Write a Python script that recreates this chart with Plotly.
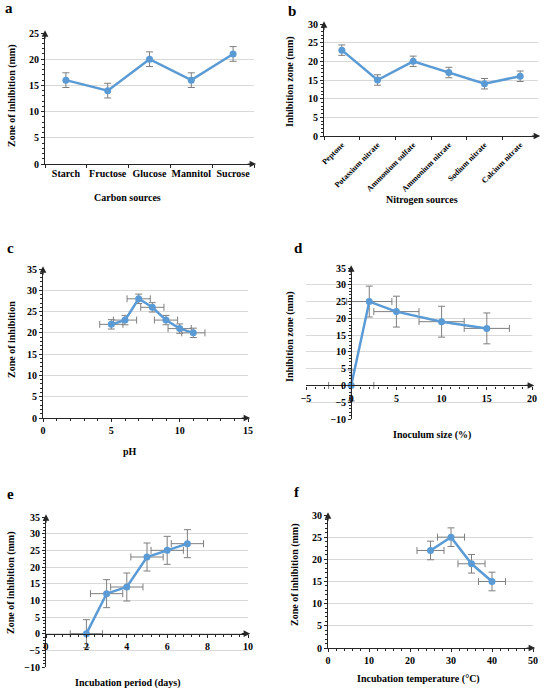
import plotly.graph_objects as go

# --- data ---
carbon_sources = ["Starch", "Fructose", "Glucose", "Mannitol", "Sucrose"]
carbon_zone = [16, 14, 20, 16, 21]
carbon_err = [1.4, 1.4, 1.4, 1.4, 1.4]

nitrogen_sources = ["Peptone", "Potassium nitrate", "Ammonium sulfate",
                    "Ammonium nitrate", "Sodium nitrate", "Calcium nitrate"]
nitrogen_zone = [23, 15, 20, 17, 14, 16]
nitrogen_err = [1.4, 1.4, 1.4, 1.4, 1.4, 1.4]

ph_values = [5, 6, 7, 8, 9, 10, 11]
ph_zone = [22, 23, 28, 26, 23, 21, 20]
ph_err_x = [0.85] * 7
ph_err_y = [1.1] * 7

inoculum_size = [0, 2, 5, 10, 15]
inoculum_zone = [0, 25, 22, 19, 17]
inoculum_err_x = [2.5] * 5
inoculum_err_y = [4.6] * 5

incubation_days = [2, 3, 4, 5, 6, 7]
incubation_zone = [0, 12, 14, 23, 25, 27]
incubation_err_x = [0.8] * 6
incubation_err_y = [4.2] * 6

temperature = [25, 30, 35, 40]
temperature_zone = [22, 25, 19, 15]
temperature_err_x = [3.3] * 4
temperature_err_y = [2.1] * 4

W, H = 550, 692
BLUE = "#5B9BD5"
GREY = "#7f7f7f"
AXIS = "#262626"
FONT = "Liberation Serif, Times New Roman, serif"


def px_x(p):
    return p / W


def px_y(p):
    return 1 - p / H


fig = go.Figure()
annotations = []


def add_panel(idx, x, y, ex, ey, xdom, ydom, xaxis_opts, yaxis_opts,
              letter, letter_pos, xtitle, xtitle_pos, ytitle, ytitle_pos,
              x_cross=None, y_cross=None):
    xa = "x" if idx == 1 else f"x{idx}"
    ya = "y" if idx == 1 else f"y{idx}"
    xkey = "xaxis" if idx == 1 else f"xaxis{idx}"
    ykey = "yaxis" if idx == 1 else f"yaxis{idx}"

    trace = go.Scatter(
        x=x, y=y, xaxis=xa, yaxis=ya, mode="lines+markers",
        line=dict(color=BLUE, width=2.5),
        marker=dict(color=BLUE, size=7),
        error_y=dict(type="data", array=ey, color=GREY, thickness=1, width=3.5),
        showlegend=False,
    )
    if ex is not None:
        trace.error_x = dict(type="data", array=ex, color=GREY, thickness=1, width=3.5)
    fig.add_trace(trace)

    xd = [px_x(xdom[0]), px_x(xdom[1])]
    yd = [px_y(ydom[1]), px_y(ydom[0])]

    base_tick = dict(family=FONT, size=10, color="black", weight="bold")
    xopts = dict(domain=xd, showline=True, linecolor=AXIS, linewidth=1.2,
                 ticks="outside", ticklen=3, tickcolor=AXIS, showgrid=False,
                 zeroline=False, tickfont=base_tick, fixedrange=True,
                 automargin=False)
    yopts = dict(domain=yd, showline=True, linecolor=AXIS, linewidth=1.2,
                 ticks="outside", ticklen=3, tickcolor=AXIS, showgrid=True,
                 gridcolor="#d9d9d9", gridwidth=1, zeroline=False,
                 tickfont=base_tick, fixedrange=True, automargin=False,
                 minor=dict(dtick=1, ticks="outside", ticklen=2, tickcolor=AXIS))
    xopts.update(xaxis_opts)
    yopts.update(yaxis_opts)

    # axis crossing positions (paper)
    if y_cross is not None:
        r = yopts["range"]
        pos = yd[0] + (y_cross - r[0]) / (r[1] - r[0]) * (yd[1] - yd[0])
        xopts.update(anchor="free", position=pos)
        x_line_y = pos
    else:
        xopts.update(anchor=ya)
        x_line_y = yd[0]
    if x_cross is not None:
        r = xopts["range"]
        pos = xd[0] + (x_cross - r[0]) / (r[1] - r[0]) * (xd[1] - xd[0])
        yopts.update(anchor="free", position=pos)
        y_line_x = pos
    else:
        yopts.update(anchor=xa)
        y_line_x = xd[0]

    fig.update_layout({xkey: xopts, ykey: yopts})

    # arrow heads on axis ends
    annotations.append(dict(xref="paper", yref="paper", x=xd[1] + 0.004, y=x_line_y,
                            ax=-10, ay=0, text="", showarrow=True, arrowhead=2,
                            arrowsize=1.1, arrowwidth=1.2, arrowcolor=AXIS))
    annotations.append(dict(xref="paper", yref="paper", x=y_line_x, y=yd[1] + 0.004,
                            ax=0, ay=10, text="", showarrow=True, arrowhead=2,
                            arrowsize=1.1, arrowwidth=1.2, arrowcolor=AXIS))

    annotations.append(dict(xref="paper", yref="paper", x=px_x(letter_pos[0]),
                            y=px_y(letter_pos[1]), text=letter, showarrow=False,
                            xanchor="center", yanchor="middle",
                            font=dict(family=FONT, size=15, color="black", weight="bold")))
    annotations.append(dict(xref="paper", yref="paper", x=px_x(xtitle_pos[0]),
                            y=px_y(xtitle_pos[1]), text=xtitle, showarrow=False,
                            xanchor="center", yanchor="middle",
                            font=dict(family=FONT, size=10, color="black", weight="bold")))
    annotations.append(dict(xref="paper", yref="paper", x=px_x(ytitle_pos[0]),
                            y=px_y(ytitle_pos[1]), text=ytitle, showarrow=False,
                            textangle=-90, xanchor="center", yanchor="middle",
                            font=dict(family=FONT, size=10, color="black", weight="bold")))


# a: carbon sources
add_panel(1, carbon_sources, carbon_zone, None, carbon_err,
          (45, 254), (33, 164),
          dict(type="category", range=[-0.5, 4.5], tickson="boundaries",
               tickangle=0),
          dict(range=[0, 25], dtick=5, tick0=0),
          "a", (9, 8), "Carbon sources", (127, 197),
          "Zone of inhibition (mm)", (12, 96))

# b: nitrogen sources
add_panel(2, nitrogen_sources, nitrogen_zone, None, nitrogen_err,
          (324, 538), (24, 136),
          dict(type="category", range=[-0.5, 5.5], tickson="boundaries",
               tickangle=-45,
               tickfont=dict(family=FONT, size=8, color="black", weight="bold")),
          dict(range=[0, 30], dtick=5, tick0=0),
          "b", (292, 11), "Nitrogen sources", (422, 200),
          "Inhibition zone (mm)", (290, 82))

# c: pH
add_panel(3, ph_values, ph_zone, ph_err_x, ph_err_y,
          (43, 248), (269, 418),
          dict(range=[0, 15], dtick=5, tick0=0,
               minor=dict(dtick=1, ticks="outside", ticklen=2, tickcolor=AXIS)),
          dict(range=[0, 35], dtick=5, tick0=0),
          "c", (10, 248), "pH", (130, 451),
          "Zone of inhibition", (11, 340))

# d: inoculum size
add_panel(4, inoculum_size, inoculum_zone, inoculum_err_x, inoculum_err_y,
          (306, 532), (268, 419),
          dict(range=[-5, 20], dtick=5, tick0=0,
               minor=dict(dtick=1, ticks="outside", ticklen=2, tickcolor=AXIS)),
          dict(range=[-10, 35], dtick=5, tick0=0),
          "d", (298, 248), "Inoculum size (%)", (432, 435),
          "Inhibition zone (mm)", (290, 337),
          x_cross=0, y_cross=0)

# e: incubation period
add_panel(5, incubation_days, incubation_zone, incubation_err_x, incubation_err_y,
          (46, 248), (517, 667),
          dict(range=[0, 10], dtick=2, tick0=0,
               minor=dict(dtick=0.4, ticks="outside", ticklen=2, tickcolor=AXIS)),
          dict(range=[-10, 35], dtick=5, tick0=0),
          "e", (10, 494), "Incubation period (days)", (128, 683),
          "Zone of inhibition (mm)", (11, 583),
          y_cross=0)

# f: incubation temperature
add_panel(6, temperature, temperature_zone, temperature_err_x, temperature_err_y,
          (328, 533), (515, 648),
          dict(range=[0, 50], dtick=10, tick0=0,
               minor=dict(dtick=2, ticks="outside", ticklen=2, tickcolor=AXIS)),
          dict(range=[0, 30], dtick=5, tick0=0),
          "f", (297, 492), "Incubation temperature (°C)", (418, 679),
          "Zone of inhibition (mm)", (295, 575))

fig.update_layout(
    width=W, height=H,
    margin=dict(l=0, r=0, t=0, b=0),
    paper_bgcolor="white", plot_bgcolor="white",
    font=dict(family=FONT, color="black"),
    annotations=annotations,
)

# drop the default page margin so the figure sits at the window's corner
fig.write_html("out.html", config={"displayModeBar": False},
               post_script="document.body.style.margin = '0';")
